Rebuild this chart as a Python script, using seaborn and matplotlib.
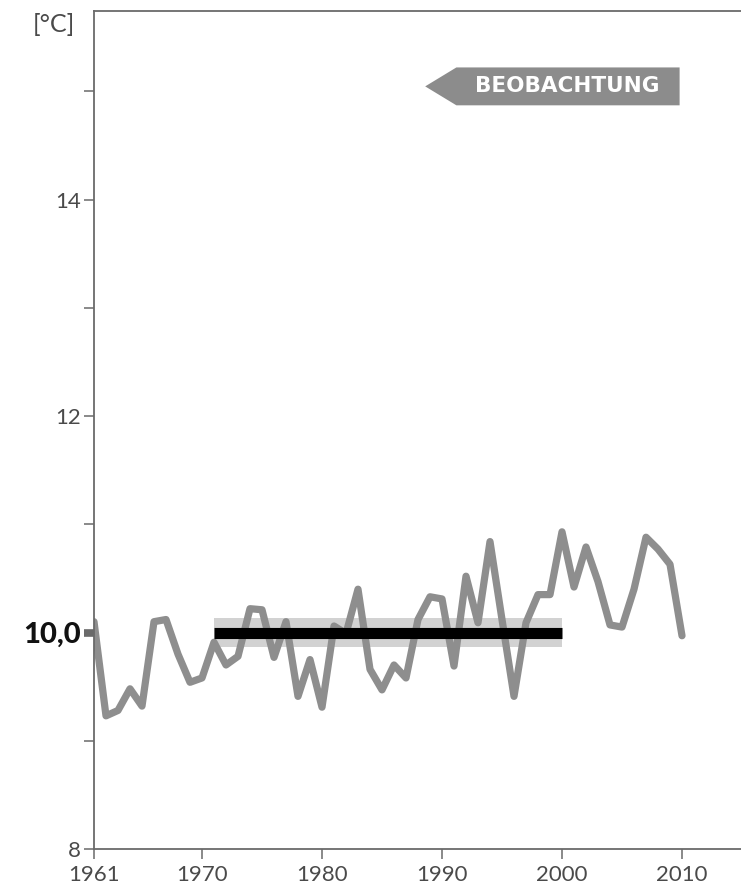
import matplotlib
matplotlib.use("Agg")
import matplotlib.pyplot as plt
from matplotlib.patches import Polygon
import pandas as pd
import seaborn as sns

# Annual mean temperature series (°C)
years = list(range(1961, 2011))
temperature = [10.10, 9.23, 9.28, 9.48, 9.32, 10.10, 10.12, 9.80, 9.54, 9.58,
               9.91, 9.70, 9.78, 10.22, 10.21, 9.77, 10.10, 9.41, 9.75, 9.31,
               10.06, 9.99, 10.40, 9.66, 9.47, 9.70, 9.58, 10.12, 10.33, 10.31,
               9.69, 10.52, 10.09, 10.84, 10.12, 9.41, 10.09, 10.35, 10.35, 10.93,
               10.42, 10.79, 10.47, 10.07, 10.05, 10.40, 10.88, 10.77, 10.63, 9.97]

# Reference period 1971-2000 and its mean
ref_start, ref_end = 1971, 2000
ref_mean = 10.0
ref_spread = 0.13

x_ticks = [1961, 1970, 1980, 1990, 2000, 2010]
y_ticks = [8, 9, 10, 11, 12, 13, 14, 15]
y_labels = ["8", "", "10,0", "", "12", "", "14", ""]
unit_label = "[°C]"
series_label = "BEOBACHTUNG"

df = pd.DataFrame({"Jahr": years, "Temperatur": temperature})

sns.set_style("ticks")
plt.rcParams["font.family"] = ["Lato", "DejaVu Sans"]

fig = plt.figure(figsize=(7.41, 8.96), dpi=100)
ax = fig.add_axes([94 / 741, 47 / 896, 647 / 741, 838 / 896])

line_grey = "#8e8e8e"
axis_grey = "#6a6a6a"

# reference band and mean bar
ax.fill_between([ref_start, ref_end], ref_mean - ref_spread, ref_mean + ref_spread,
                color="#d2d2d2", lw=0, zorder=1)
sns.lineplot(data=df, x="Jahr", y="Temperatur", ax=ax, color=line_grey,
             linewidth=5.2, zorder=2, legend=False)
ax.hlines(ref_mean, ref_start, ref_end, color="black", linewidth=8, zorder=3)

ax.set_xlim(1961, 1961 + 647 / 12)
ax.set_ylim(8, 8 + 838 / 108.25)
ax.set_xlabel("")
ax.set_ylabel("")

ax.set_xticks(x_ticks)
ax.set_xticklabels([str(v) for v in x_ticks])
ax.set_yticks(y_ticks)
ax.set_yticklabels(y_labels)

for side in ["left", "bottom", "top"]:
    ax.spines[side].set_color(axis_grey)
    ax.spines[side].set_linewidth(1.3)
ax.spines["right"].set_visible(False)

ax.tick_params(axis="both", direction="out", length=7.5, width=1.1,
               color=axis_grey, labelcolor="#4a4a4a", labelsize=16, pad=2)
ax.tick_params(axis="x", pad=4)

# emphasise the reference value on the y axis
idx = y_ticks.index(10)
tick10 = ax.yaxis.get_major_ticks()[idx]
tick10.tick1line.set_markeredgewidth(5.5)
tick10.tick1line.set_color("black")
tick10.label1.set_fontweight("black")
tick10.label1.set_fontsize(21)
tick10.label1.set_color("#111111")

fig.text(33 / 741, 1 - 25 / 896, unit_label, ha="left", va="center",
         fontsize=18, color="#4a4a4a")

# series tag with left-pointing arrow
tag_tip, tag_body, tag_right = 1988.6, 1991.2, 2009.8
tag_low, tag_high = 14.87, 15.22
ax.add_patch(Polygon([(tag_tip, (tag_low + tag_high) / 2), (tag_body, tag_high),
                      (tag_right, tag_high), (tag_right, tag_low), (tag_body, tag_low)],
                     closed=True, facecolor="#8c8c8c", edgecolor="none", zorder=4))
ax.text((tag_body + tag_right) / 2 - 0.1, (tag_low + tag_high) / 2, series_label,
        ha="center", va="center", color="white", fontsize=15.5, fontweight="bold",
        family=["DejaVu Sans"], zorder=5)

fig.savefig("out.png", dpi=100)
